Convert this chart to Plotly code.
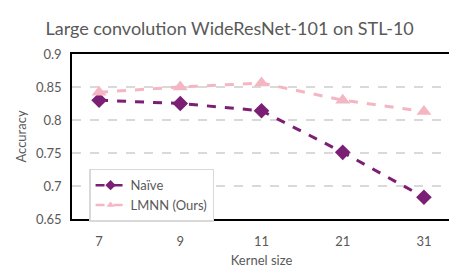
import plotly.graph_objects as go

kernel_sizes = ["7", "9", "11", "21", "31"]
naive = [0.830, 0.825, 0.814, 0.751, 0.683]
lmnn = [0.842, 0.850, 0.856, 0.830, 0.813]
y_ticks = [0.65, 0.7, 0.75, 0.8, 0.85, 0.9]
y_tick_text = ["0.65", "0.7", "0.75", "0.8", "0.85", "0.9"]

FONT = "Lato"
GRAY = "#595959"
PURPLE = "#7b1f74"
PINK = "#f4b6c2"

fig = go.Figure()
fig.add_trace(go.Scatter(
    x=kernel_sizes, y=naive, name="Naïve", mode="lines+markers",
    line=dict(color=PURPLE, width=3, dash="dash"),
    marker=dict(symbol="diamond", size=12, color=PURPLE),
    showlegend=False,
))
fig.add_trace(go.Scatter(
    x=kernel_sizes, y=lmnn, name="LMNN (Ours)", mode="lines+markers",
    line=dict(color=PINK, width=3, dash="dash"),
    marker=dict(symbol="triangle-up", size=13, color=PINK),
    showlegend=False,
))
# legend entries with smaller markers
fig.add_trace(go.Scatter(
    x=[None], y=[None], name="Naïve", mode="lines+markers",
    line=dict(color=PURPLE, width=2.5, dash="dash"),
    marker=dict(symbol="diamond", size=8, color=PURPLE),
))
fig.add_trace(go.Scatter(
    x=[None], y=[None], name="LMNN (Ours)", mode="lines+markers",
    line=dict(color=PINK, width=2.5, dash="dash"),
    marker=dict(symbol="triangle-up", size=7, color=PINK),
))

fig.update_layout(
    width=457, height=270,
    margin=dict(l=64, r=12, t=46, b=52),
    paper_bgcolor="white", plot_bgcolor="white",
    font=dict(family=FONT, color=GRAY, size=13),
    title=dict(text="Large convolution WideResNet-101 on STL-10",
               x=0.485, xanchor="center", y=0.925, yanchor="middle",
               font=dict(size=18, color=GRAY, family=FONT)),
    legend=dict(x=0.045, y=0.305, xanchor="left", yanchor="top",
                bordercolor="#d9d9d9", borderwidth=1.5, bgcolor="white",
                font=dict(size=13, color=GRAY), tracegroupgap=0,
                itemwidth=30),
    showlegend=True,
)
fig.update_xaxes(
    title=dict(text="Kernel size", font=dict(size=13, color=GRAY), standoff=8),
    showline=True, linecolor="black", linewidth=1.5, mirror=True,
    showgrid=False, ticks="outside", ticklen=10, tickcolor="rgba(0,0,0,0)",
    tickfont=dict(size=13, color=GRAY),
)
fig.update_yaxes(
    title=dict(text="Accuracy", font=dict(size=13, color=GRAY), standoff=6),
    range=[0.65, 0.9], tickvals=y_ticks, ticktext=y_tick_text,
    showline=True, linecolor="black", linewidth=1.5, mirror=True,
    showgrid=True, gridcolor="#d9d9d9", griddash="dash", gridwidth=1.5,
    ticks="outside", ticklen=6, tickcolor="rgba(0,0,0,0)",
    tickfont=dict(size=13, color=GRAY), zeroline=False,
)

fig.write_html("out.html")
